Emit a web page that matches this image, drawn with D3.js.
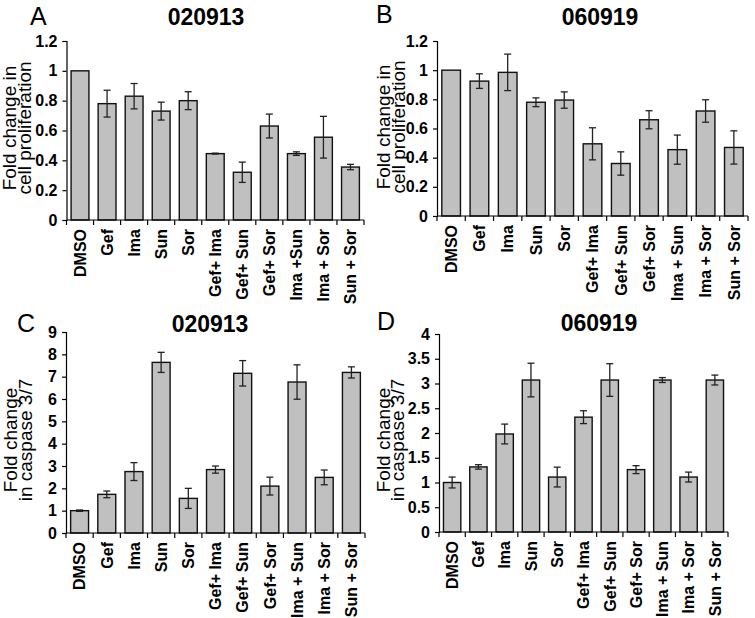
<!DOCTYPE html>
<html>
<head>
<meta charset="utf-8">
<script src="https://cdn.jsdelivr.net/npm/d3@7"></script>
<style>
  body { margin: 0; background: #fff; }
  svg text { font-family: Arial, "Liberation Sans", sans-serif; fill: #000; }
</style>
</head>
<body>
<svg id="chart" width="755" height="618"></svg>
<script>
// categories
const categoriesA = ["DMSO", "Gef", "Ima", "Sun", "Sor", "Gef+ Ima", "Gef+ Sun", "Gef+ Sor", "Ima +Sun", "Ima + Sor", "Sun + Sor"];
const categories = ["DMSO", "Gef", "Ima", "Sun", "Sor", "Gef+ Ima", "Gef+ Sun", "Gef+ Sor", "Ima + Sun", "Ima + Sor", "Sun + Sor"];

// A: cell proliferation 020913
const prolif020913 = [1.0, 0.78, 0.83, 0.73, 0.80, 0.445, 0.32, 0.63, 0.445, 0.555, 0.355];
const prolif020913Err = [0, 0.09, 0.085, 0.06, 0.06, 0.003, 0.068, 0.08, 0.012, 0.14, 0.018];
// B: cell proliferation 060919
const prolif060919 = [1.0, 0.925, 0.985, 0.78, 0.795, 0.495, 0.36, 0.66, 0.455, 0.72, 0.47];
const prolif060919Err = [0, 0.05, 0.125, 0.03, 0.056, 0.11, 0.08, 0.062, 0.1, 0.077, 0.114];
// C: caspase 3/7 020913
const casp020913 = [1.0, 1.73, 2.75, 7.64, 1.55, 2.84, 7.15, 2.1, 6.76, 2.49, 7.19];
const casp020913Err = [0.03, 0.15, 0.4, 0.45, 0.45, 0.16, 0.57, 0.4, 0.77, 0.33, 0.25];
// D: caspase 3/7 060919
const casp060919 = [1.0, 1.315, 1.98, 3.07, 1.11, 2.32, 3.07, 1.26, 3.07, 1.11, 3.07];
const casp060919Err = [0.11, 0.045, 0.2, 0.34, 0.2, 0.13, 0.33, 0.08, 0.05, 0.1, 0.1];

// tick values
const ticksProlif = [0, 0.2, 0.4, 0.6, 0.8, 1, 1.2];
const ticksCasp020913 = [0, 1, 2, 3, 4, 5, 6, 7, 8, 9];
const ticksCasp060919 = [0, 0.5, 1, 1.5, 2, 2.5, 3, 3.5, 4];

const svg = d3.select("#chart");

const panels = [
  { letter: "A", title: "020913", cats: categoriesA, values: prolif020913, errs: prolif020913Err, ticks: ticksProlif,
    ylabel: ["Fold change in", "cell proliferation"],
    x0: 66.5, x1: 364, yZero: 220, yMax: 41,
    letterPos: [30, 25], titlePos: [206, 25], labelX: [16, 31], labelY: 128 },
  { letter: "B", title: "060919", cats: categories, values: prolif060919, errs: prolif060919Err, ticks: ticksProlif,
    ylabel: ["Fold change in", "cell proliferation"],
    x0: 437, x1: 748, yZero: 216, yMax: 41,
    letterPos: [376, 23], titlePos: [600, 25], labelX: [390, 405], labelY: 127 },
  { letter: "C", title: "020913", cats: categories, values: casp020913, errs: casp020913Err, ticks: ticksCasp020913,
    ylabel: ["Fold change", "in caspase 3/7"],
    x0: 66, x1: 365, yZero: 533, yMax: 332,
    letterPos: [17, 332], titlePos: [210, 332], labelX: [17, 32], labelY: 440 },
  { letter: "D", title: "060919", cats: categories, values: casp060919, errs: casp060919Err, ticks: ticksCasp060919,
    ylabel: ["Fold change", "in caspase 3/7"],
    x0: 439, x1: 728, yZero: 532, yMax: 334,
    letterPos: [377, 330], titlePos: [599, 331], labelX: [390, 404], labelY: 440 }
];

panels.forEach(drawPanel);

function drawPanel(p) {
  const g = svg.append("g");
  const maxTick = p.ticks[p.ticks.length - 1];

  const x = d3.scaleBand()
    .domain(p.cats)
    .range([p.x0, p.x1])
    .paddingInner(0.34)
    .paddingOuter(0.17);

  const y = d3.scaleLinear().domain([0, maxTick]).range([p.yZero, p.yMax]);

  // y axis
  const yAxis = g.append("g")
    .attr("transform", "translate(" + p.x0 + ",0)")
    .call(d3.axisLeft(y).tickValues(p.ticks).tickSize(4).tickPadding(5).tickFormat(d3.format("~g")));
  yAxis.select(".domain").attr("stroke", "#000").attr("stroke-width", 1.2);
  yAxis.selectAll(".tick line").attr("stroke", "#000").attr("stroke-width", 1.2);
  yAxis.selectAll("text")
    .style("font-size", "16px")
    .style("font-weight", "bold")
    .attr("fill", "#000");

  // x axis labels
  const xAxis = g.append("g")
    .attr("transform", "translate(0," + p.yZero + ")")
    .call(d3.axisBottom(x).tickSize(0));
  xAxis.select(".domain").remove();
  xAxis.selectAll("text")
    .attr("transform", "rotate(-90)")
    .attr("x", -9)
    .attr("y", 0)
    .attr("dy", "0.36em")
    .style("text-anchor", "end")
    .style("font-size", "16px")
    .style("font-weight", "bold")
    .attr("fill", "#000");

  // bars
  g.selectAll("rect.bar")
    .data(p.values)
    .enter()
    .append("rect")
    .attr("class", "bar")
    .attr("x", (d, i) => x(p.cats[i]))
    .attr("width", x.bandwidth())
    .attr("y", d => y(d))
    .attr("height", d => y(0) - y(d))
    .attr("fill", "#c0c0c0")
    .attr("stroke", "#111")
    .attr("stroke-width", 1.4);

  // x axis line and category boundary ticks
  g.append("line")
    .attr("x1", p.x0).attr("x2", p.x1)
    .attr("y1", y(0)).attr("y2", y(0))
    .attr("stroke", "#000").attr("stroke-width", 1.2);
  const bounds = d3.range(p.cats.length + 1).map(i => p.x0 + i * x.step());
  g.selectAll("line.bound")
    .data(bounds)
    .enter()
    .append("line")
    .attr("class", "bound")
    .attr("x1", d => d).attr("x2", d => d)
    .attr("y1", y(0)).attr("y2", y(0) + 5)
    .attr("stroke", "#000").attr("stroke-width", 1.2);

  // error bars
  const cap = 3.5;
  const eg = g.append("g").attr("stroke", "#222").attr("stroke-width", 1.3);
  p.values.forEach((v, i) => {
    const e = p.errs[i];
    if (!e) return;
    const cx = x(p.cats[i]) + x.bandwidth() / 2;
    eg.append("line").attr("x1", cx).attr("x2", cx).attr("y1", y(v + e)).attr("y2", y(v - e));
    eg.append("line").attr("x1", cx - cap).attr("x2", cx + cap).attr("y1", y(v + e)).attr("y2", y(v + e));
    eg.append("line").attr("x1", cx - cap).attr("x2", cx + cap).attr("y1", y(v - e)).attr("y2", y(v - e));
  });

  // panel letter and title
  g.append("text")
    .attr("x", p.letterPos[0]).attr("y", p.letterPos[1])
    .style("font-size", "25px")
    .text(p.letter);
  g.append("text")
    .attr("x", p.titlePos[0]).attr("y", p.titlePos[1])
    .attr("text-anchor", "middle")
    .style("font-size", "23px")
    .style("font-weight", "bold")
    .text(p.title);

  // y label, two lines
  p.ylabel.forEach((t, k) => {
    g.append("text")
      .attr("transform", "translate(" + p.labelX[k] + "," + p.labelY + ") rotate(-90)")
      .attr("text-anchor", "middle")
      .style("font-size", "19px")
      .text(t);
  });
}
</script>
</body>
</html>
